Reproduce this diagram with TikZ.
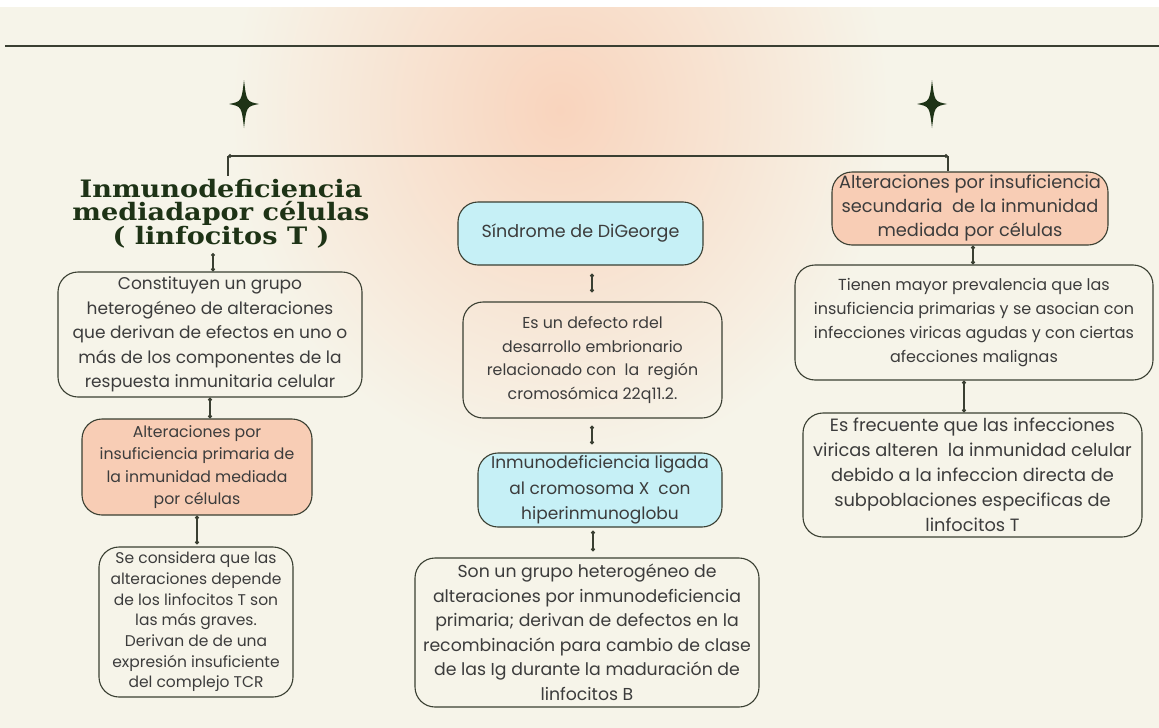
\documentclass[tikz,border=0pt]{standalone}
\usepackage{fontspec}
\setmainfont{Poppins}
\newfontfamily\titlefont{DejaVu Serif}[FakeStretch=1.13]
\usetikzlibrary{arrows.meta,calc}
\definecolor{cream}{HTML}{F6F4E9}
\definecolor{peachbg}{HTML}{F9D4BD}
\definecolor{peachbox}{HTML}{F8CDB5}
\definecolor{bluebox}{HTML}{C6F0F6}
\definecolor{linec}{HTML}{3A3F32}
\definecolor{txt}{HTML}{3C3C3C}
\definecolor{titlec}{HTML}{1E3316}
\tikzset{
  box/.style={draw=linec, line width=1.1pt, rounded corners=20pt, align=center, text=txt, inner sep=0pt},
  plainbox/.style={box},
  peach/.style={box, fill=peachbox},
  blue/.style={box, fill=bluebox},
  conn/.style={draw=linec, line width=1.1pt, {Circle[length=4pt]}-{Circle[length=4pt]}},
  hline/.style={draw=linec, line width=1.1pt},
  starshape/.style={fill=titlec},
}
\newcommand{\fs}[2]{\fontsize{#1}{#2}\selectfont}
\newcommand{\mystar}[2]{%
  \fill[starshape] (#1,#2-24) .. controls (#1+2.5,#2-2.5) .. (#1+15,#2)
    .. controls (#1+2.5,#2+2.5) .. (#1,#2+24)
    .. controls (#1-2.5,#2+2.5) .. (#1-15,#2)
    .. controls (#1-2.5,#2-2.5) .. cycle;}
\begin{document}
\begin{tikzpicture}[x=1pt,y=-1pt]
\useasboundingbox (0,0) rectangle (1159,728);
% background
\fill[cream] (0,0) rectangle (1159,728);
\shade[inner color=peachbg, outer color=cream] (560,110) ellipse (330 and 360);
\fill[white] (0,0) rectangle (1159,7);
\draw[linec, line width=2.6pt] (5,46) -- (1159,46);
% stars
\mystar{244}{104}
\mystar{932}{104}
% nodes
\node[font=\titlefont\bfseries\fs{24}{22.5}, text=titlec, align=center] (title) at (221,214)
  {Inmunodeficiencia\\mediadapor células\\( linfocitos T )};
\node[plainbox, minimum width=304pt, minimum height=125pt, font=\fs{17}{24.5}] (b1) at (210,334.5)
  {Constituyen un grupo\\heterogéneo de alteraciones\\que derivan de efectos en uno o\\más de los componentes de la\\respuesta inmunitaria celular};
\node[peach, minimum width=230pt, minimum height=96pt, font=\fs{15.7}{22.5}] (b2) at (197,467)
  {Alteraciones por\\insuficiencia primaria de\\la inmunidad mediada\\por células};
\node[plainbox, minimum width=194pt, minimum height=150pt, font=\fs{15.5}{20.7}] (b3) at (196,622)
  {Se considera que las\\alteraciones depende\\de los linfocitos T son\\las más graves.\\Derivan de de una\\expresión insuficiente\\del complejo TCR};
\node[blue, minimum width=245pt, minimum height=63pt, font=\fs{17.5}{23}] (m1) at (580.5,233.5)
  {Síndrome de DiGeorge};
\node[plainbox, minimum width=259pt, minimum height=116pt, font=\fs{15.8}{23.7}] (m2) at (592.5,360)
  {Es un defecto rdel\\desarrollo embrionario\\relacionado con\ \ la\ \ región\\cromosómica 22q11.2.};
\node[blue, minimum width=244pt, minimum height=74pt, font=\fs{17}{25.5}] (m3) at (600,490)
  {Inmunodeficiencia ligada\\al cromosoma X\ \ con\\hiperinmunoglobu};
\node[plainbox, minimum width=344pt, minimum height=149pt, font=\fs{17.3}{24.5}] (m4) at (587,632.5)
  {Son un grupo heterogéneo de\\alteraciones por inmunodeficiencia\\primaria; derivan de defectos en la\\recombinación para cambio de clase\\de las Ig durante la maduración de\\linfocitos B};
\node[peach, minimum width=276pt, minimum height=73pt, font=\fs{17.8}{24}] (r1) at (970,208.5)
  {Alteraciones por insuficiencia\\secundaria\ \ de la inmunidad\\mediada por células};
\node[plainbox, minimum width=358pt, minimum height=115pt, font=\fs{16}{24}] (r2) at (974,322.5)
  {Tienen mayor prevalencia que las\\insuficiencia primarias y se asocian con\\infecciones viricas agudas y con ciertas\\afecciones malignas};
\node[plainbox, minimum width=339pt, minimum height=124pt, font=\fs{17.8}{25}] (r3) at (972.5,475)
  {Es frecuente que las infecciones\\viricas alteren\ \ la inmunidad celular\\debido a la infeccion directa de\\subpoblaciones especificas de\\linfocitos T};
% connectors
\coordinate (jl) at (228,156);
\coordinate (jr) at (948,156);
\draw[conn] (jl) -- (jr);
\draw[hline] (jl) -- (jl |- title.north);
\draw[hline] (jr) -- (jr |- r1.north);
\coordinate (xt) at (213,0);
\draw[conn] (xt |- 0,253) -- (xt |- b1.north);
\coordinate (x1) at (210,0);
\draw[conn] (x1 |- b1.south) -- (x1 |- b2.north);
\coordinate (x2) at (197,0);
\draw[conn] (x2 |- b2.south) -- ($(x2 |- b3.north)+(0,-2)$);
\coordinate (xm) at (592,0);
\draw[conn, shorten <=8pt, shorten >=9pt] (xm |- m1.south) -- (xm |- m2.north);
\draw[conn, shorten <=7pt, shorten >=8pt] (xm |- m2.south) -- (xm |- m3.north);
\coordinate (xm2) at (593,0);
\draw[conn, shorten <=3pt, shorten >=6pt] (xm2 |- m3.south) -- (xm2 |- m4.north);
\coordinate (xr) at (973,0);
\draw[conn] (xr |- r1.south) -- (xr |- r2.north);
\coordinate (xr2) at (964,0);
\draw[conn] (xr2 |- r2.south) -- (xr2 |- r3.north);
\end{tikzpicture}
\end{document}
